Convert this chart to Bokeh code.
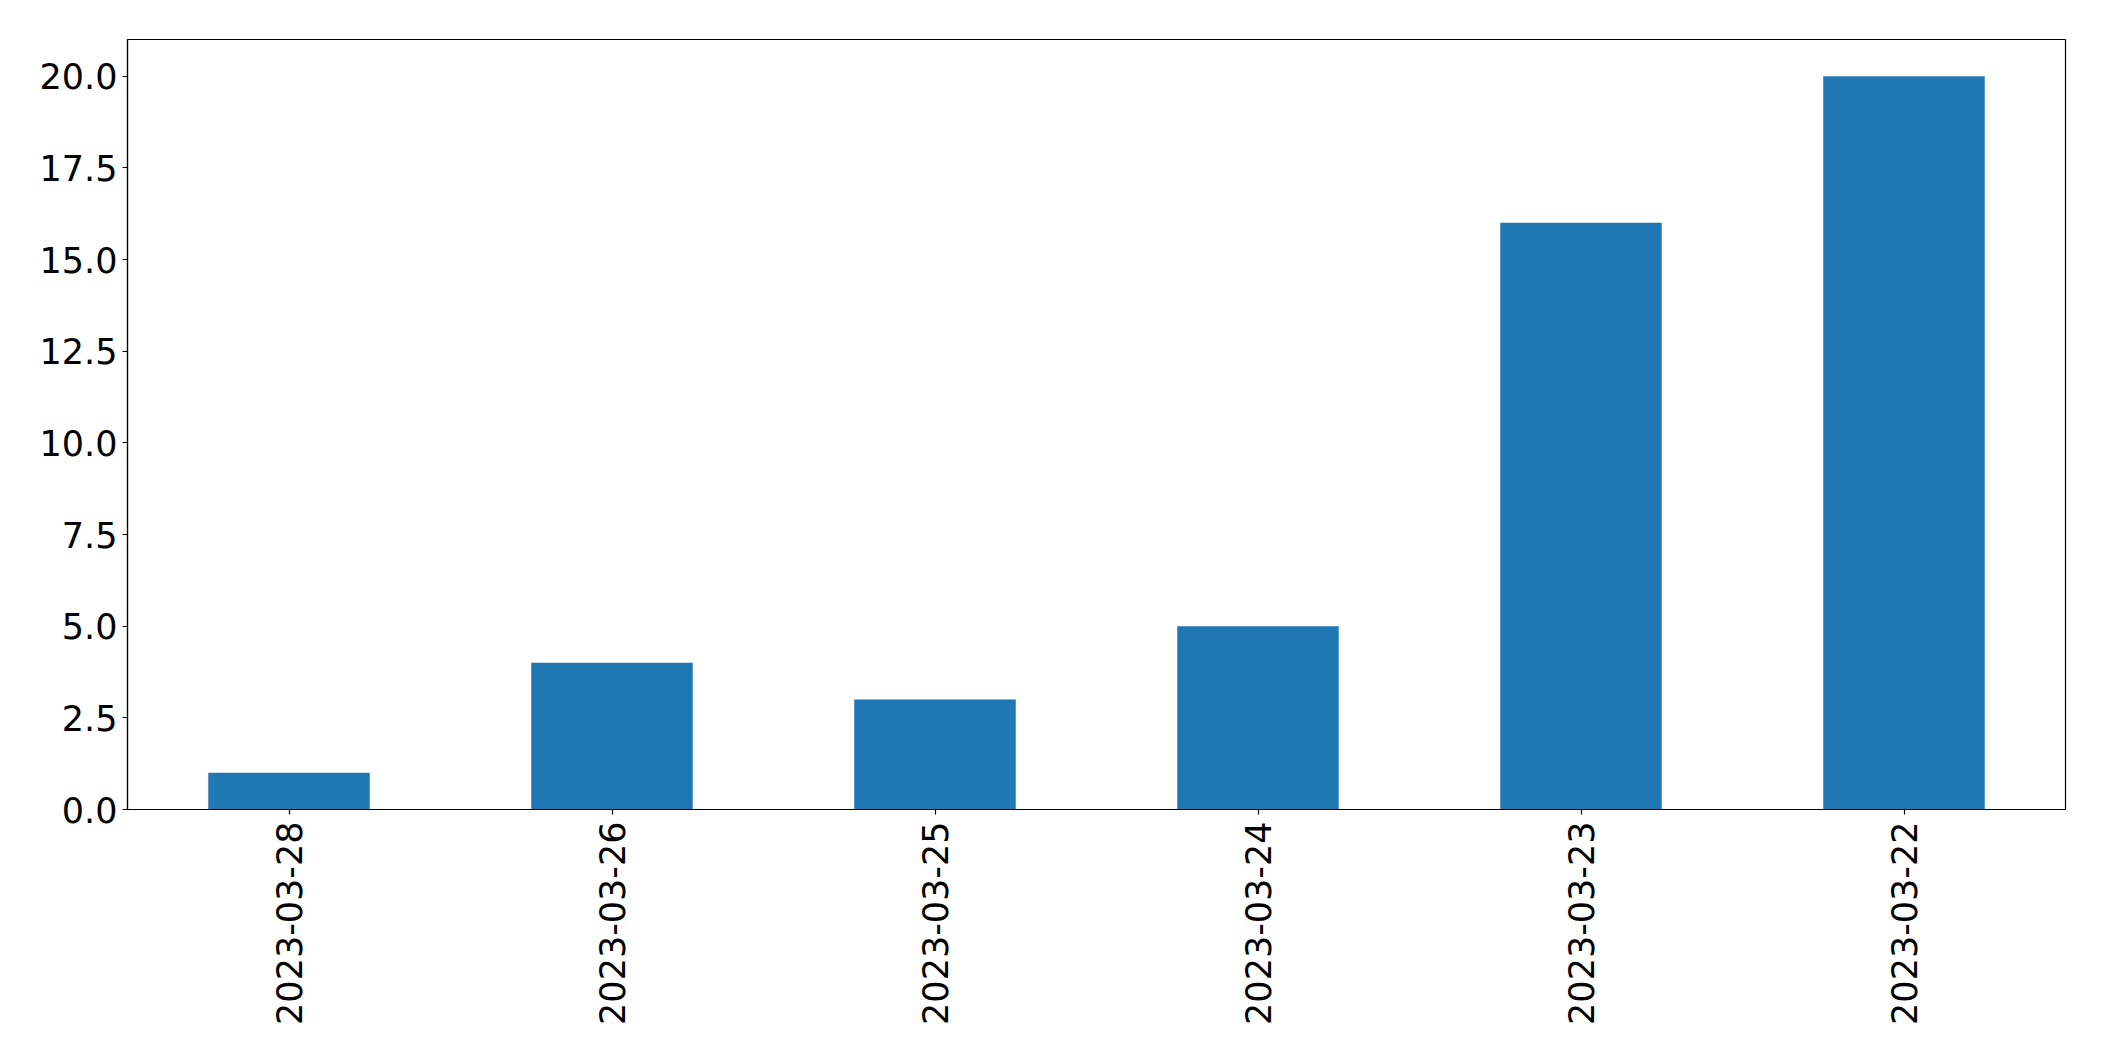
from bokeh.plotting import figure
from bokeh.models import FixedTicker, NumeralTickFormatter, Range1d, FactorRange
from bokeh.embed import file_html
from bokeh.resources import INLINE
import math

dates = ["2023-03-28", "2023-03-26", "2023-03-25", "2023-03-24", "2023-03-23", "2023-03-22"]
counts = [1, 4, 3, 5, 16, 20]
y_ticks = [0, 2.5, 5, 7.5, 10, 12.5, 15, 17.5, 20]

FONT = "DejaVu Sans"
FS = "35px"

p = figure(width=2096, height=1053, output_backend="svg", toolbar_location=None,
           x_range=FactorRange(factors=dates, range_padding=0),
           y_range=Range1d(0, 21),
           min_border_left=127, min_border_right=31, min_border_top=39, min_border_bottom=244)

p.vbar(x=dates, top=counts, width=0.5, color="#1f77b4", line_color=None)

p.xgrid.visible = False
p.ygrid.visible = False
p.outline_line_color = "black"
p.outline_line_width = 1.2

for ax in (p.xaxis[0], p.yaxis[0]):
    ax.axis_line_color = "black"
    ax.axis_line_width = 1.2
    ax.major_tick_line_color = "black"
    ax.major_tick_line_width = 1.2
    ax.major_tick_in = 0
    ax.major_tick_out = 5
    ax.minor_tick_line_color = None
    ax.major_label_text_font = FONT
    ax.major_label_text_font_size = FS
    ax.major_label_text_color = "black"

p.yaxis[0].ticker = FixedTicker(ticks=y_ticks)
p.yaxis[0].formatter = NumeralTickFormatter(format="0.0")
p.yaxis[0].major_label_standoff = 5
p.xaxis[0].major_label_orientation = math.pi / 2
p.xaxis[0].major_label_standoff = 7

open("out.html", "w").write(file_html(p, INLINE))
